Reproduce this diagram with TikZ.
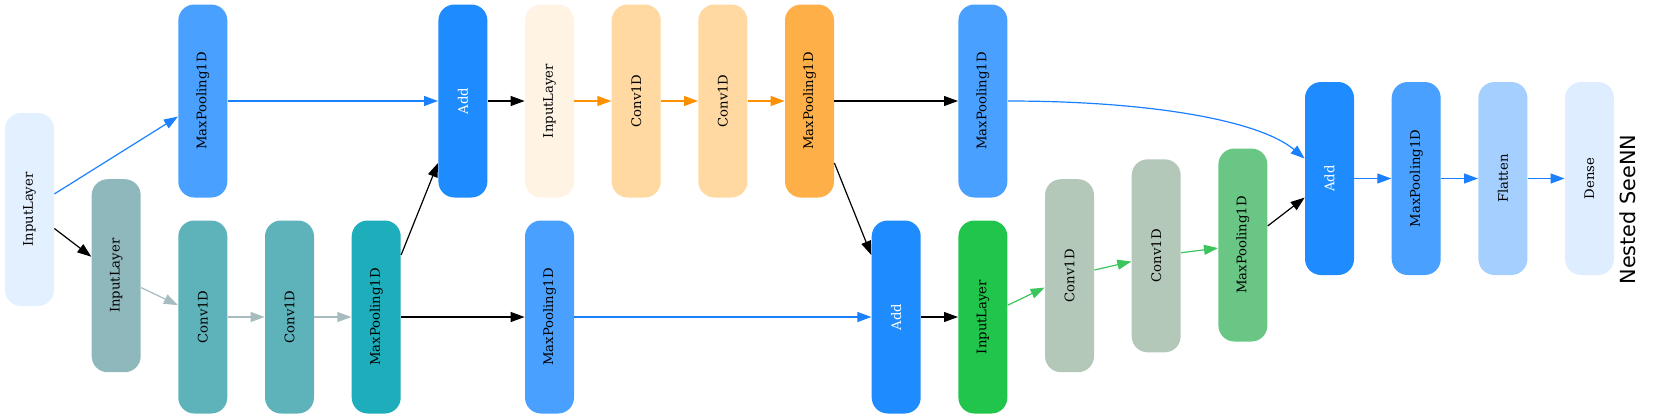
\documentclass[tikz,border=0pt]{standalone}
\usepackage{fontspec}
\usepackage{graphicx}
\usepackage{xcolor}
\usepackage{tikz}
\usetikzlibrary{arrows.meta}
\newfontfamily\layerfont{DejaVu Serif}
\newfontfamily\titlefont{DejaVu Sans}
\newcommand{\vtext}[1]{\rotatebox{90}{#1}}

\definecolor{cIlOne}{HTML}{E3F0FF}
\definecolor{cIlTwo}{HTML}{8FB8BC}
\definecolor{cMpBlue}{HTML}{4AA0FF}
\definecolor{cConvTeal}{HTML}{5EB3BA}
\definecolor{cMpTeal}{HTML}{1DADBB}
\definecolor{cAdd}{HTML}{1E8BFF}
\definecolor{cIlCream}{HTML}{FFF3E4}
\definecolor{cConvOrange}{HTML}{FFD8A2}
\definecolor{cMpOrange}{HTML}{FFAF48}
\definecolor{cIlGreen}{HTML}{22C54B}
\definecolor{cConvSage}{HTML}{B3C8B8}
\definecolor{cMpGreen}{HTML}{69C684}
\definecolor{cFlatten}{HTML}{A5CFFF}
\definecolor{cDense}{HTML}{DEEDFF}
\definecolor{eBlue}{HTML}{1A80FF}
\definecolor{eOrange}{HTML}{FF9000}
\definecolor{eGray}{HTML}{A6BCBF}
\definecolor{eGreen}{HTML}{3CC45E}

\begin{document}
\begin{tikzpicture}[x=0.5pt,y=-0.5pt,
		layer/.style={rounded corners=8pt, minimum width=24.5pt, minimum height=96.5pt, inner sep=0pt, font=\layerfont\fontsize{6.6}{8}\selectfont},
		link/.style={-{Triangle[length=7pt,width=5pt]}, line width=0.6pt}]
		\useasboundingbox (0,0) rectangle (1653,419);
		
		% Draw first branch
		\node (il1) at (29.5,209.5) [layer, fill=cIlOne] {\vtext{InputLayer}};
		\node (mp1) at (202.8,101) [layer, fill=cMpBlue] {\vtext{MaxPooling1D}};
		\node (il2) at (116.2,275.7) [layer, fill=cIlTwo] {\vtext{InputLayer}};
		\node (cv1) at (202.8,317) [layer, fill=cConvTeal] {\vtext{Conv1D}};
		\node (cv2) at (289.5,317) [layer, fill=cConvTeal] {\vtext{Conv1D}};
		\node (mp2) at (376.2,317) [layer, fill=cMpTeal] {\vtext{MaxPooling1D}};
		\node (add1) at (462.9,101) [layer, fill=cAdd, text=white] {\vtext{Add}};
		
		% Draw second branch
		\node (il3) at (549.5,101) [layer, fill=cIlCream] {\vtext{InputLayer}};
		\node (cv3) at (636.2,101) [layer, fill=cConvOrange] {\vtext{Conv1D}};
		\node (cv4) at (722.9,101) [layer, fill=cConvOrange] {\vtext{Conv1D}};
		\node (mp3) at (809.5,101) [layer, fill=cMpOrange] {\vtext{MaxPooling1D}};
		\node (mp4) at (549.5,317) [layer, fill=cMpBlue] {\vtext{MaxPooling1D}};
		\node (add2) at (896.2,317) [layer, fill=cAdd, text=white] {\vtext{Add}};
		\node (mp5) at (982.9,101) [layer, fill=cMpBlue] {\vtext{MaxPooling1D}};
		
		% Draw third branch
		\node (il4) at (982.9,317) [layer, fill=cIlGreen] {\vtext{InputLayer}};
		\node (cv5) at (1069.5,275.7) [layer, fill=cConvSage] {\vtext{Conv1D}};
		\node (cv6) at (1156.2,255.8) [layer, fill=cConvSage] {\vtext{Conv1D}};
		\node (mp6) at (1242.9,245) [layer, fill=cMpGreen] {\vtext{MaxPooling1D}};
		
		% Draw head
		\node (add3) at (1329.5,178.5) [layer, fill=cAdd, text=white] {\vtext{Add}};
		\node (mp7) at (1416.2,178.5) [layer, fill=cMpBlue] {\vtext{MaxPooling1D}};
		\node (fl) at (1502.9,178.5) [layer, fill=cFlatten] {\vtext{Flatten}};
		\node (dn) at (1589.5,178.5) [layer, fill=cDense] {\vtext{Dense}};
		
		% Add title
		\node (title) at (1628,209.5) [rotate=90, inner sep=0pt, font=\titlefont\fontsize{10.4}{12}\selectfont] {Nested SeeNN};
		
		% Draw edges
		\draw[link,eBlue] (il1) -- (mp1);
		\draw[link] (il1) -- (il2);
		\draw[link,eGray] (il2) -- (cv1);
		\draw[link,eGray] (cv1) -- (cv2);
		\draw[link,eGray] (cv2) -- (mp2);
		\draw[link,eBlue] (mp1) -- (add1);
		\draw[link] (mp2) -- (add1);
		\draw[link] (mp2) -- (mp4);
		\draw[link] (add1) -- (il3);
		\draw[link,eOrange] (il3) -- (cv3);
		\draw[link,eOrange] (cv3) -- (cv4);
		\draw[link,eOrange] (cv4) -- (mp3);
		\draw[link] (mp3) -- (mp5);
		\draw[link] (mp3) -- (add2);
		\draw[link,eBlue] (mp4) -- (add2);
		\draw[link] (add2) -- (il4);
		\draw[link,eGreen] (il4) -- (cv5);
		\draw[link,eGreen] (cv5) -- (cv6);
		\draw[link,eGreen] (cv6) -- (mp6);
		\draw[link] (mp6) -- (add3);
		\draw[link,eBlue] (mp5.east) .. controls +(143,0) and +(-45,-38) .. ([yshift=10pt]add3.west);
		\draw[link,eBlue] (add3) -- (mp7);
		\draw[link,eBlue] (mp7) -- (fl);
		\draw[link,eBlue] (fl) -- (dn);
	\end{tikzpicture}
\end{document}
